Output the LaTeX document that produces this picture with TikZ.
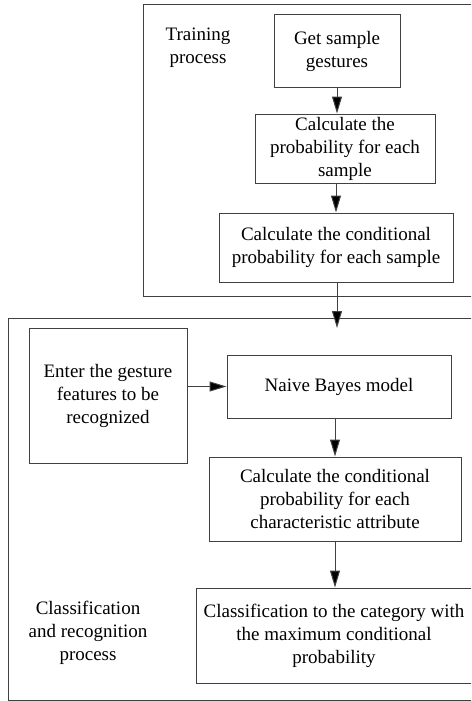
\documentclass[tikz,border=0pt]{standalone}
\usepackage{fontspec}
\setmainfont{Liberation Serif}
\usetikzlibrary{arrows.meta}
\tikzset{
  lw/.style={draw=black!75, line width=1pt},
  box/.style={lw, rectangle, align=center, inner sep=0pt, font=\fontsize{19}{23}\selectfont},
  lbl/.style={align=center, inner sep=0pt, font=\fontsize{19}{23}\selectfont},
  arr/.style={lw, -{Triangle[length=17pt,width=10pt,fill=black]}}
}
\begin{document}
\begin{tikzpicture}[x=1pt,y=-1pt]
\useasboundingbox (0,0) rectangle (471,701);
\clip (0,0) rectangle (471,701);
% frames
\draw[lw] (480,5) -- (143,5) -- (143,296) -- (480,296);
\draw[lw] (480,318) -- (8,318) -- (8,700) -- (480,700);
% labels
\node[lbl] (tp) at (198,48) {Training\\process};
\node[lbl] (cp) at (88,633) {Classification\\and recognition\\process};
% boxes
\node[box, minimum width=126pt, minimum height=72pt] (b1) at (337,51) {Get sample\\gestures};
\node[box, minimum width=180pt, minimum height=69pt] (b2) at (345,148.5) {Calculate the\\probability for each\\sample};
\node[box, minimum width=234pt, minimum height=69pt] (b3) at (336,247.5) {Calculate the conditional\\probability for each sample};
\node[box, minimum width=158pt, minimum height=135pt] (en) at (108,395.5) {Enter the gesture\\features to be\\recognized};
\node[box, minimum width=224pt, minimum height=63pt] (nb) at (339,386.5) {Naive Bayes model};
\node[box, minimum width=252pt, minimum height=84pt] (b4) at (335,499) {Calculate the conditional\\probability for each\\characteristic attribute};
\node[box, minimum width=276pt, minimum height=95pt] (b5) at (334,635.5) {Classification to the category with\\the maximum conditional\\probability};
\coordinate (t) at (337,328);
% arrows
\draw[arr] (b1.south) -- (b1.south |- b2.north);
\draw[arr] (b3 |- b2.south) -- (b3.north);
\draw[arr] (b3.south -| t) -- (t);
\draw[arr] (en.east |- nb.west) -- (nb.west);
\draw[arr] (b4 |- nb.south) -- (b4.north);
\draw[arr] (b4.south) -- (b4.south |- b5.north);
\end{tikzpicture}
\end{document}
